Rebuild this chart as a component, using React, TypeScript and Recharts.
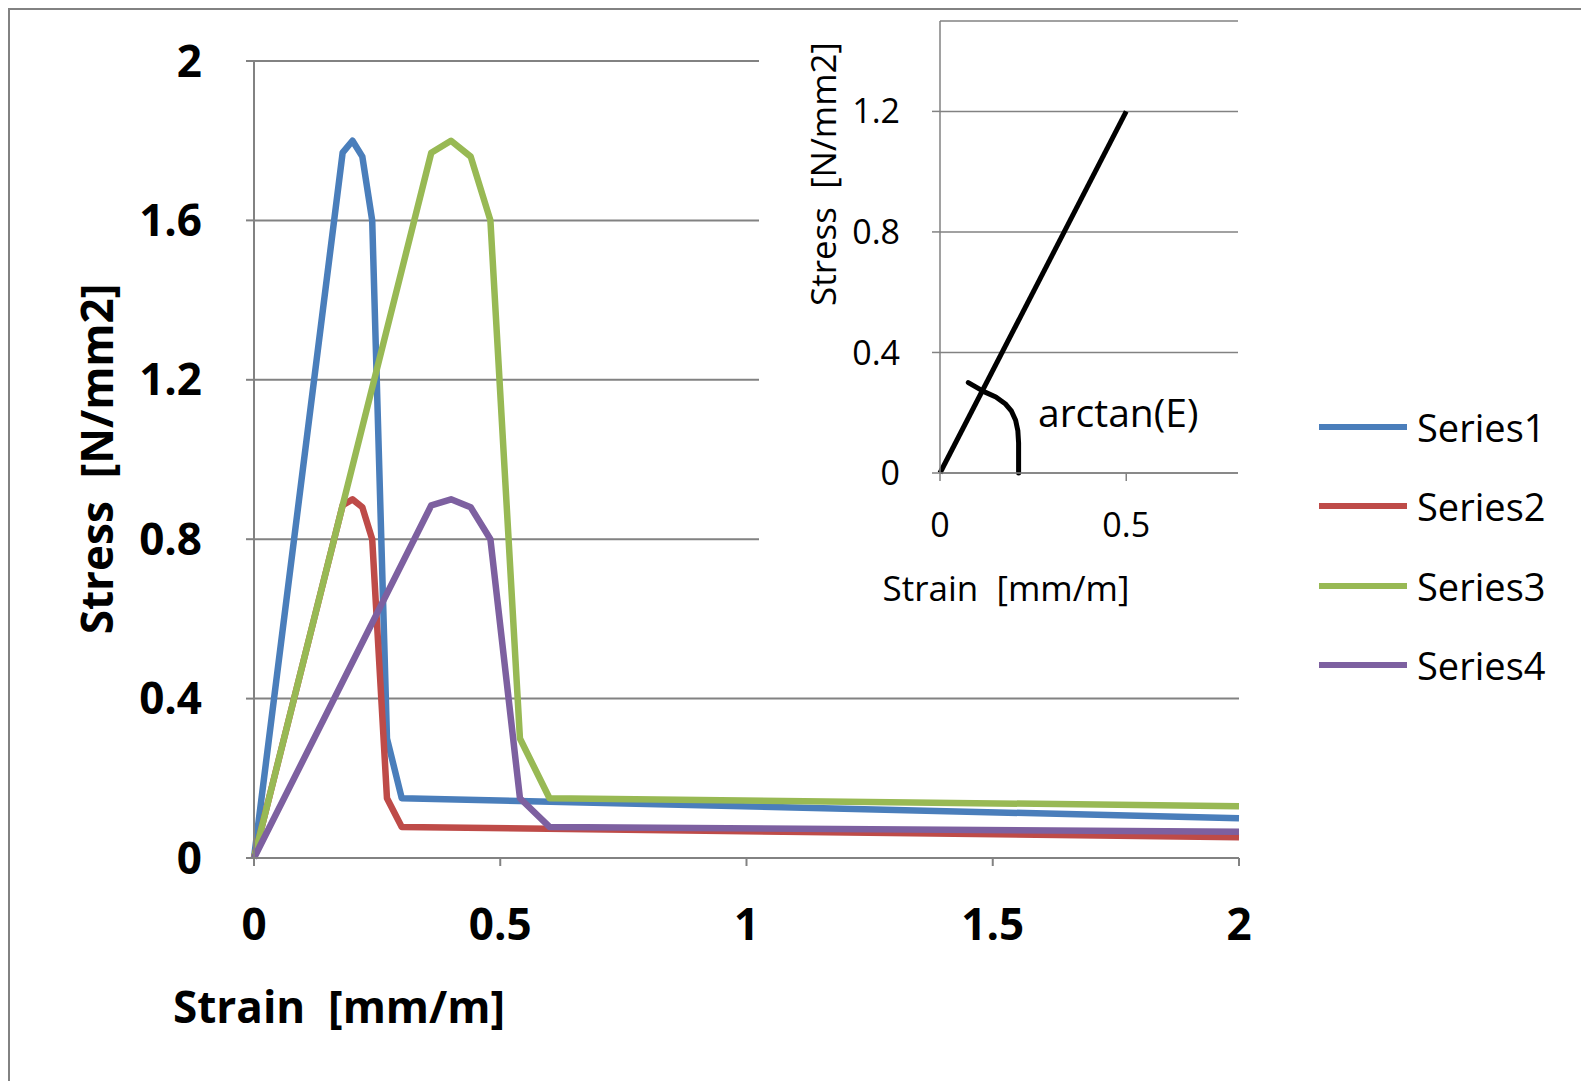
import React from 'react';
import { LineChart, Line, XAxis, YAxis, CartesianGrid } from 'recharts';

type Pt = { x: number; y: number };

// strain [mm/m] vs stress [N/mm2]
const series1: Pt[] = [
  { x: 0, y: 0 }, { x: 0.18, y: 1.77 }, { x: 0.2, y: 1.8 }, { x: 0.22, y: 1.76 },
  { x: 0.24, y: 1.6 }, { x: 0.27, y: 0.3 }, { x: 0.3, y: 0.15 }, { x: 2, y: 0.1 },
];
const series2: Pt[] = [
  { x: 0, y: 0 }, { x: 0.18, y: 0.885 }, { x: 0.2, y: 0.9 }, { x: 0.22, y: 0.88 },
  { x: 0.24, y: 0.8 }, { x: 0.27, y: 0.15 }, { x: 0.3, y: 0.078 }, { x: 2, y: 0.052 },
];
const series3: Pt[] = [
  { x: 0, y: 0 }, { x: 0.36, y: 1.77 }, { x: 0.4, y: 1.8 }, { x: 0.44, y: 1.76 },
  { x: 0.48, y: 1.6 }, { x: 0.54, y: 0.3 }, { x: 0.6, y: 0.15 }, { x: 2, y: 0.13 },
];
const series4: Pt[] = [
  { x: 0, y: 0 }, { x: 0.36, y: 0.885 }, { x: 0.4, y: 0.9 }, { x: 0.44, y: 0.88 },
  { x: 0.48, y: 0.8 }, { x: 0.54, y: 0.15 }, { x: 0.6, y: 0.078 }, { x: 2, y: 0.066 },
];

const SERIES = [
  { name: 'Series1', color: '#4a7ebb', data: series1 },
  { name: 'Series2', color: '#be4b48', data: series2 },
  { name: 'Series3', color: '#98b954', data: series3 },
  { name: 'Series4', color: '#7d60a0', data: series4 },
];

const MAIN_X_TICKS = [0, 0.5, 1, 1.5, 2];
const MAIN_Y_TICKS = [0, 0.4, 0.8, 1.2, 1.6, 2];

// inset: elastic part with the angle mark
const insetLine: Pt[] = [{ x: 0, y: 0 }, { x: 0.5, y: 1.2 }];
const insetArc: Pt[] = [
  { x: 0.076, y: 0.3 }, { x: 0.118, y: 0.27 }, { x: 0.15, y: 0.252 }, { x: 0.175, y: 0.23 },
  { x: 0.192, y: 0.205 }, { x: 0.203, y: 0.175 }, { x: 0.209, y: 0.14 }, { x: 0.211, y: 0.1 },
  { x: 0.211, y: 0 },
];
const INSET_X_TICKS = [0, 0.5];
const INSET_Y_TICKS = [0, 0.4, 0.8, 1.2];

const FONT = "'Open Sans', 'Noto Sans', sans-serif";
const GRID = '#828282';

const mainTick = { fill: '#000', fontSize: 44, fontWeight: 700, fontFamily: FONT };
const insetTick = { fill: '#000', fontSize: 34, fontWeight: 400, fontFamily: FONT };

const textStyle = (size: number, weight: number): React.CSSProperties => ({
  position: 'absolute',
  fontFamily: FONT,
  fontSize: size,
  fontWeight: weight,
  lineHeight: 1,
  whiteSpace: 'pre',
  color: '#000',
});

export default function App() {
  return (
    <div style={{ position: 'fixed', left: 0, top: 0, width: 1581, height: 1081, background: '#fff', overflow: 'hidden' }}>
      {/* chart frame, only top and left edges show */}
      <div style={{ position: 'absolute', left: 8, top: 8, width: 1600, height: 1100, borderTop: `2px solid ${GRID}`, borderLeft: `2px solid ${GRID}` }} />

      <div style={{ position: 'absolute', left: 0, top: 0 }}>
        <LineChart width={1581} height={1081} margin={{ top: 61, right: 342, bottom: 123, left: 134 }}>
          <CartesianGrid vertical={false} stroke={GRID} strokeWidth={2} />
          <XAxis
            type="number"
            dataKey="x"
            domain={[0, 2]}
            ticks={MAIN_X_TICKS}
            height={100}
            tick={mainTick}
            tickSize={8}
            tickMargin={43}
            axisLine={{ stroke: GRID, strokeWidth: 2 }}
            tickLine={{ stroke: GRID, strokeWidth: 2 }}
            allowDuplicatedCategory={false}
          />
          <YAxis
            type="number"
            domain={[0, 2]}
            ticks={MAIN_Y_TICKS}
            width={120}
            tick={mainTick}
            tickSize={8}
            tickMargin={44}
            axisLine={{ stroke: GRID, strokeWidth: 2 }}
            tickLine={{ stroke: GRID, strokeWidth: 2 }}
          />
          {SERIES.map(s => (
            <Line
              key={s.name}
              data={s.data}
              dataKey="y"
              name={s.name}
              type="linear"
              stroke={s.color}
              strokeWidth={6.5}
              strokeLinejoin="round"
              dot={false}
              activeDot={false}
              isAnimationActive={false}
            />
          ))}
        </LineChart>
      </div>

      <span style={{ ...textStyle(44, 700), left: 173, top: 1006, transform: 'translateY(-50%)' }}>Strain  [mm/m]</span>
      <span style={{ ...textStyle(44, 700), left: 96, top: 459, transform: 'translate(-50%, -50%) rotate(-90deg)' }}>Stress  [N/mm2]</span>

      {/* legend */}
      {SERIES.map((s, i) => (
        <div key={s.name} style={{ position: 'absolute', left: 1319, top: 427 + i * 79.3 - 25, height: 50, display: 'flex', alignItems: 'center' }}>
          <div style={{ width: 88, height: 6, background: s.color }} />
          <span style={{ fontFamily: FONT, fontSize: 38, marginLeft: 10, color: '#000' }}>{s.name}</span>
        </div>
      ))}

      {/* inset chart */}
      <div style={{ position: 'absolute', left: 759, top: 11, width: 486, height: 610, background: '#fff' }}>
        <LineChart width={486} height={610} margin={{ top: 10, right: 7, bottom: 88, left: 101 }}>
          <CartesianGrid vertical={false} stroke={GRID} strokeWidth={1.5} />
          <XAxis
            type="number"
            dataKey="x"
            domain={[0, 0.8]}
            ticks={INSET_X_TICKS}
            height={60}
            tick={insetTick}
            tickSize={8}
            tickMargin={32}
            axisLine={{ stroke: GRID, strokeWidth: 1.5 }}
            tickLine={{ stroke: GRID, strokeWidth: 1.5 }}
            allowDuplicatedCategory={false}
          />
          <YAxis
            type="number"
            domain={[0, 1.5]}
            ticks={INSET_Y_TICKS}
            width={80}
            tick={insetTick}
            tickSize={8}
            tickMargin={32}
            axisLine={{ stroke: GRID, strokeWidth: 1.5 }}
            tickLine={{ stroke: GRID, strokeWidth: 1.5 }}
          />
          <Line data={insetLine} dataKey="y" type="linear" stroke="#000" strokeWidth={5} dot={false} activeDot={false} isAnimationActive={false} />
          <Line data={insetArc} dataKey="y" type="linear" stroke="#000" strokeWidth={5} strokeLinejoin="round" strokeLinecap="round" dot={false} activeDot={false} isAnimationActive={false} />
        </LineChart>
      </div>

      <span style={{ ...textStyle(35, 500), left: 822, top: 174, transform: 'translate(-50%, -50%) rotate(-90deg)' }}>Stress  [N/mm2]</span>
      <span style={{ ...textStyle(35, 500), left: 1006, top: 587, transform: 'translate(-50%, -50%)' }}>Strain  [mm/m]</span>
      <span style={{ ...textStyle(39, 500), left: 1038, top: 411, transform: 'translateY(-50%)' }}>arctan(E)</span>
    </div>
  );
}
